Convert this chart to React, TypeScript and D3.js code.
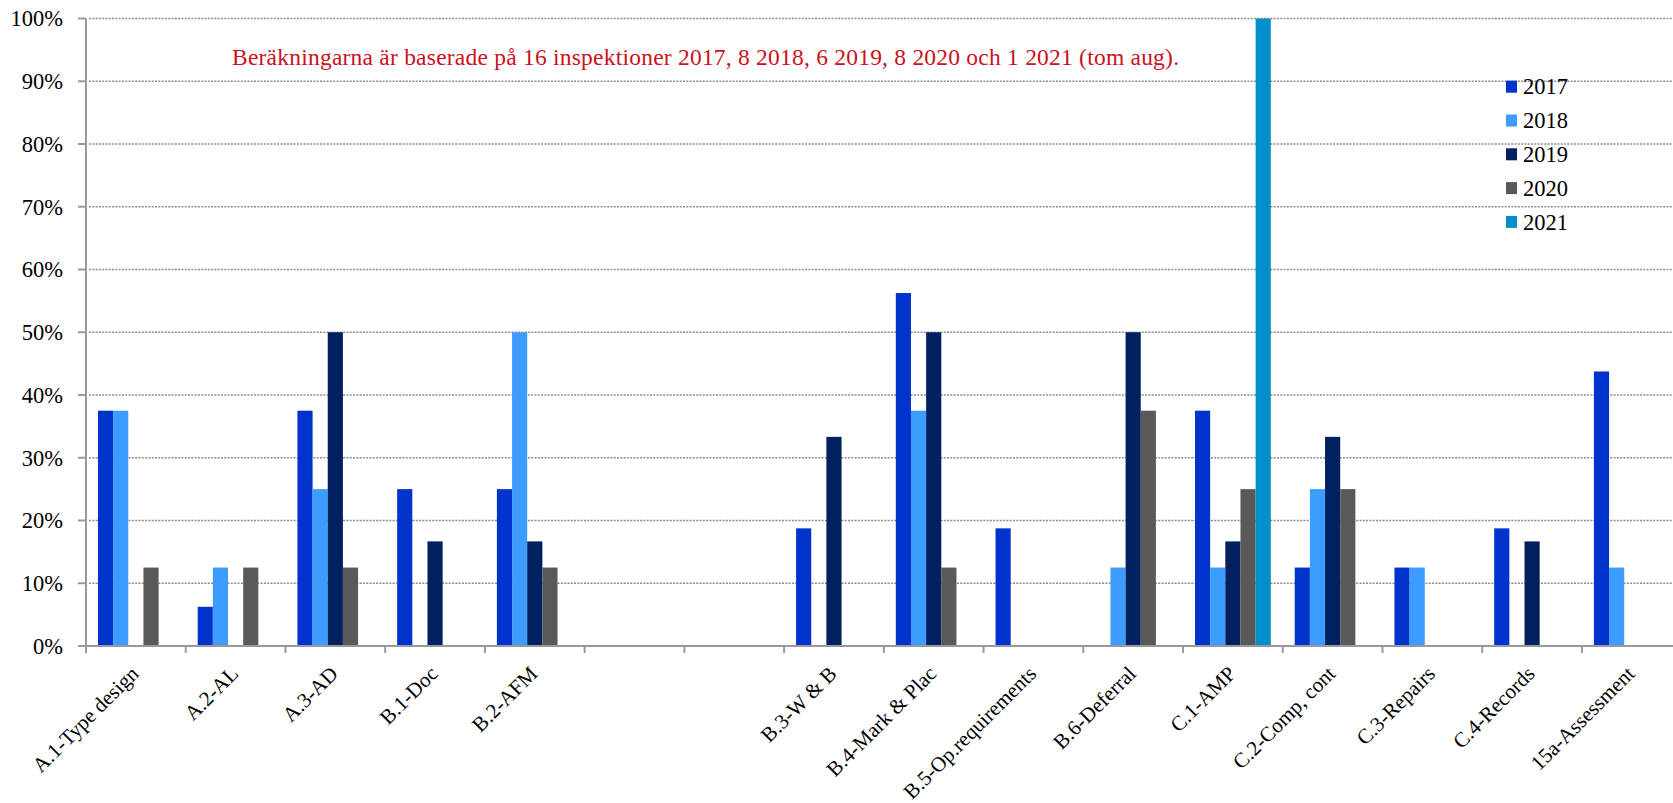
import React from "react";
import * as d3 from "d3";

const categories = [
  "A.1-Type design", "A.2-AL", "A.3-AD", "B.1-Doc", "B.2-AFM", "", "",
  "B.3-W & B", "B.4-Mark & Plac", "B.5-Op.requirements", "B.6-Deferral",
  "C.1-AMP", "C.2-Comp, cont", "C.3-Repairs", "C.4-Records", "15a-Assessment",
];
const years = ["2017", "2018", "2019", "2020", "2021"];
const v2017 = [37.5, 6.25, 37.5, 25, 25, 0, 0, 18.75, 56.25, 18.75, 0, 37.5, 12.5, 12.5, 18.75, 43.75];
const v2018 = [37.5, 12.5, 25, 0, 50, 0, 0, 0, 37.5, 0, 12.5, 12.5, 25, 12.5, 0, 12.5];
const v2019 = [0, 0, 50, 16.67, 16.67, 0, 0, 33.33, 50, 0, 50, 16.67, 33.33, 0, 16.67, 0];
const v2020 = [12.5, 12.5, 12.5, 0, 12.5, 0, 0, 0, 12.5, 0, 37.5, 25, 25, 0, 0, 0];
const v2021 = [0, 0, 0, 0, 0, 0, 0, 0, 0, 0, 0, 100, 0, 0, 0, 0];
const series = [v2017, v2018, v2019, v2020, v2021];
const colors = ["#0033cc", "#3d9cff", "#00205f", "#595959", "#008fc8"];
const yTicks = [0, 10, 20, 30, 40, 50, 60, 70, 80, 90, 100];
const note = "Beräkningarna är baserade på 16 inspektioner 2017, 8 2018, 6 2019, 8 2020 och 1 2021 (tom aug).";

const W = 1673, H = 803;
const X0 = 86, SLOT = 99.73;
const FONT = "Liberation Serif, Times New Roman, Tinos, serif";
const tstyle = { fontFamily: FONT };

export default function App() {
  const idx = categories.map((_, i) => String(i));
  const x0 = d3.scaleBand<string>().domain(idx).range([X0, X0 + SLOT * categories.length]).padding(0);
  const bw = x0.bandwidth();
  const x1 = d3.scaleBand<string>().domain(years).range([bw * 0.12, bw * 0.88]).padding(0);
  const y = d3.scaleLinear().domain([0, 100]).range([646, 18.5]);
  const axisColor = "#999999";

  return (
    <svg width={W} height={H} style={{ position: "absolute", left: 0, top: 0, background: "#fff" }}>
      {yTicks.filter(t => t > 0).map(t => (
        <line key={"g" + t} x1={X0 + 3} x2={W} y1={y(t)} y2={y(t)} stroke="#8c8c8c" strokeWidth={1.6} strokeDasharray="2 1.3" />
      ))}
      {idx.map((c, i) => (
        <g key={"c" + c} transform={`translate(${x0(c)},0)`}>
          {years.map((yr, j) => {
            const v = series[j][i];
            if (!v) return null;
            return (
              <rect key={yr} x={x1(yr)} y={y(v)} width={x1.bandwidth()} height={y(0) - y(v)} fill={colors[j]} />
            );
          })}
        </g>
      ))}
      <line x1={X0} x2={X0} y1={y(100)} y2={y(0)} stroke={axisColor} strokeWidth={2} />
      {yTicks.map(t => (
        <g key={"yt" + t}>
          <line x1={X0 - 8} x2={X0} y1={y(t)} y2={y(t)} stroke={axisColor} strokeWidth={2} />
          <text x={63} y={y(t)} dy="0.35em" textAnchor="end" fontSize={22.5} fill="#000" style={tstyle}>{t}%</text>
        </g>
      ))}
      <line x1={X0 - 8} x2={W} y1={y(0)} y2={y(0)} stroke={axisColor} strokeWidth={2} />
      {d3.range(categories.length + 1).map(k => (
        <line key={"xt" + k} x1={X0 + k * bw} x2={X0 + k * bw} y1={y(0)} y2={y(0) + 7} stroke={axisColor} strokeWidth={2} />
      ))}
      {idx.map((c, i) => {
        if (!categories[i]) return null;
        const cx = (x0(c) as number) + bw / 2;
        return (
          <text key={"xl" + c} transform={`translate(${cx + 4},675) rotate(-45)`} textAnchor="end" fontSize={21} fill="#000" style={tstyle}>
            {categories[i]}
          </text>
        );
      })}
      <text x={232} y={65} fontSize={23.5} fill="#cc1020" style={tstyle} textLength={947} lengthAdjust="spacing">{note}</text>
      {years.map((yr, j) => (
        <g key={"lg" + yr} transform={`translate(1506,${80.7 + j * 33.8})`}>
          <rect x={0} y={0} width={11} height={12} fill={colors[j]} />
          <text x={17} y={13.6} fontSize={22.5} fill="#000" style={tstyle}>{yr}</text>
        </g>
      ))}
    </svg>
  );
}
